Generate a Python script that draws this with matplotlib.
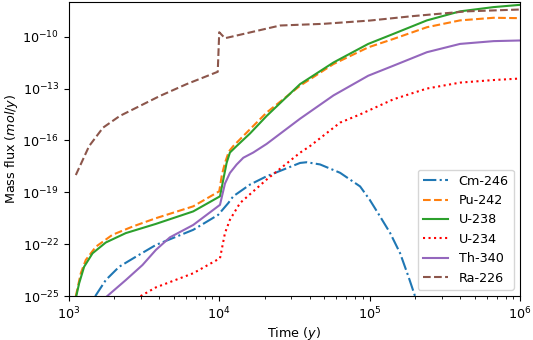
import numpy as np
import matplotlib
matplotlib.use("Agg")
import matplotlib.pyplot as plt

plt.rcParams["font.size"] = 9.2

# values (time in years, flux in mol/y)
t_cm = [1500, 1762, 2163, 2793, 3793, 6714, 9840, 11482, 12388, 15996, 20654,
        34434, 38107, 46774, 63533, 86298, 1e5, 117220, 136773, 159221,
        181134, 200000]
f_cm = [1e-25, 8.5e-25, 5.0e-24, 1.9e-23, 9.1e-23, 6.8e-22, 5.0e-21, 2.4e-20,
        5.9e-20, 2.8e-19, 8.5e-19, 5.0e-18, 5.5e-18, 4.1e-18, 1.35e-18,
        2.2e-19, 3.7e-20, 4.0e-21, 4.4e-22, 3.0e-23, 1.3e-24, 1e-25]

t_pu = [1114, 1202, 1297, 1514, 1950, 2655, 3793, 6714, 10000, 10423, 10914,
        11588, 12388, 15996, 20654, 34434, 57412, 97724, 143880, 239883,
        398107, 665273, 1e6]
f_pu = [1e-25, 2.1e-24, 1.23e-23, 7.2e-23, 3.5e-22, 1.05e-21, 3.2e-21,
        1.55e-20, 1.15e-19, 1.07e-18, 5.0e-18, 2.3e-17, 4.7e-17, 4.4e-16,
        4.1e-15, 1.45e-13, 2.6e-12, 2.4e-11, 7.4e-11, 3.5e-10, 8.7e-10,
        1.23e-9, 1.17e-9]

t_u238 = [1122, 1172, 1265, 1439, 1762, 2393, 3793, 6714, 10116, 10641,
          11194, 11776, 13032, 15996, 20654, 34434, 57412, 97724, 143880,
          239883, 398107, 665273, 1e6]
f_u238 = [1e-25, 5.5e-25, 5.0e-24, 3.0e-23, 1.26e-22, 4.4e-22, 1.5e-21,
          7.9e-21, 5.9e-20, 5.5e-19, 5.0e-18, 2.0e-17, 4.7e-17, 2.5e-16,
          2.6e-15, 1.8e-13, 3.2e-12, 3.8e-11, 1.45e-10, 8.7e-10, 2.9e-9,
          5.1e-9, 6.9e-9]

t_u234 = [3000, 3793, 6714, 10116, 10914, 11776, 13740, 20654, 34434, 40088,
          63533, 86298, 143880, 239883, 398107, 665273, 1e6]
f_u234 = [1e-25, 3.2e-25, 2.1e-24, 1.55e-23, 4.4e-22, 2.6e-21, 2.4e-20,
          5.5e-19, 1.95e-17, 4.7e-17, 1.07e-15, 3.2e-15, 2.4e-14, 1e-13,
          2.2e-13, 3.1e-13, 3.8e-13]

t_th = [1800, 2393, 3090, 3793, 4699, 6714, 10116, 10914, 11776, 13032,
        14454, 16827, 20654, 34434, 57412, 97724, 143880, 239883, 398107,
        665273, 1e6]
f_th = [1e-25, 8.5e-25, 6.3e-24, 4.7e-23, 2.5e-22, 1.3e-21, 1.9e-20,
        3.2e-19, 1.32e-18, 4.0e-18, 1.0e-17, 2.0e-17, 6.3e-17, 1.8e-15,
        4.0e-14, 5.5e-13, 2.1e-12, 1.26e-11, 3.8e-11, 5.5e-11, 6.0e-11]

t_ra = [1114, 1365, 1690, 2183, 2965, 4027, 6067, 9772, 10000, 10914,
        25351, 49200, 1e5, 195434, 442600, 1e6]
f_ra = [1.0e-18, 4.7e-17, 5.5e-16, 2.6e-15, 9.8e-15, 3.7e-14, 1.8e-13, 9.3e-13,
        1.8e-10, 8.1e-11, 4.4e-10, 5.5e-10, 8.5e-10, 1.55e-9, 2.9e-9, 3.7e-9]

fig, ax = plt.subplots(figsize=(5.33, 3.4), dpi=100)
fig.subplots_adjust(left=0.129, right=0.976, bottom=0.129, top=0.994)

ax.plot(t_cm, f_cm, "-.", color="tab:blue", label="Cm-246")
ax.plot(t_pu, f_pu, "--", color="tab:orange", label="Pu-242")
ax.plot(t_u238, f_u238, "-", color="tab:green", label="U-238")
ax.plot(t_u234, f_u234, ":", color="red", label="U-234")
ax.plot(t_th, f_th, "-", color="tab:purple", label="Th-340")
ax.plot(t_ra, f_ra, "--", color="tab:brown", label="Ra-226")

ax.set_xscale("log")
ax.set_yscale("log")
ax.set_xlim(1e3, 1e6)
ax.set_ylim(1e-25, 1e-8)
ax.set_yticks([1e-25, 1e-22, 1e-19, 1e-16, 1e-13, 1e-10])
ax.yaxis.set_minor_locator(matplotlib.ticker.NullLocator())
ax.set_xlabel("Time ($y$)", labelpad=1.5)
ax.set_ylabel("Mass flux ($mol/y$)", labelpad=2)
ax.legend(loc="lower right")

fig.savefig("out.png", dpi=100)
